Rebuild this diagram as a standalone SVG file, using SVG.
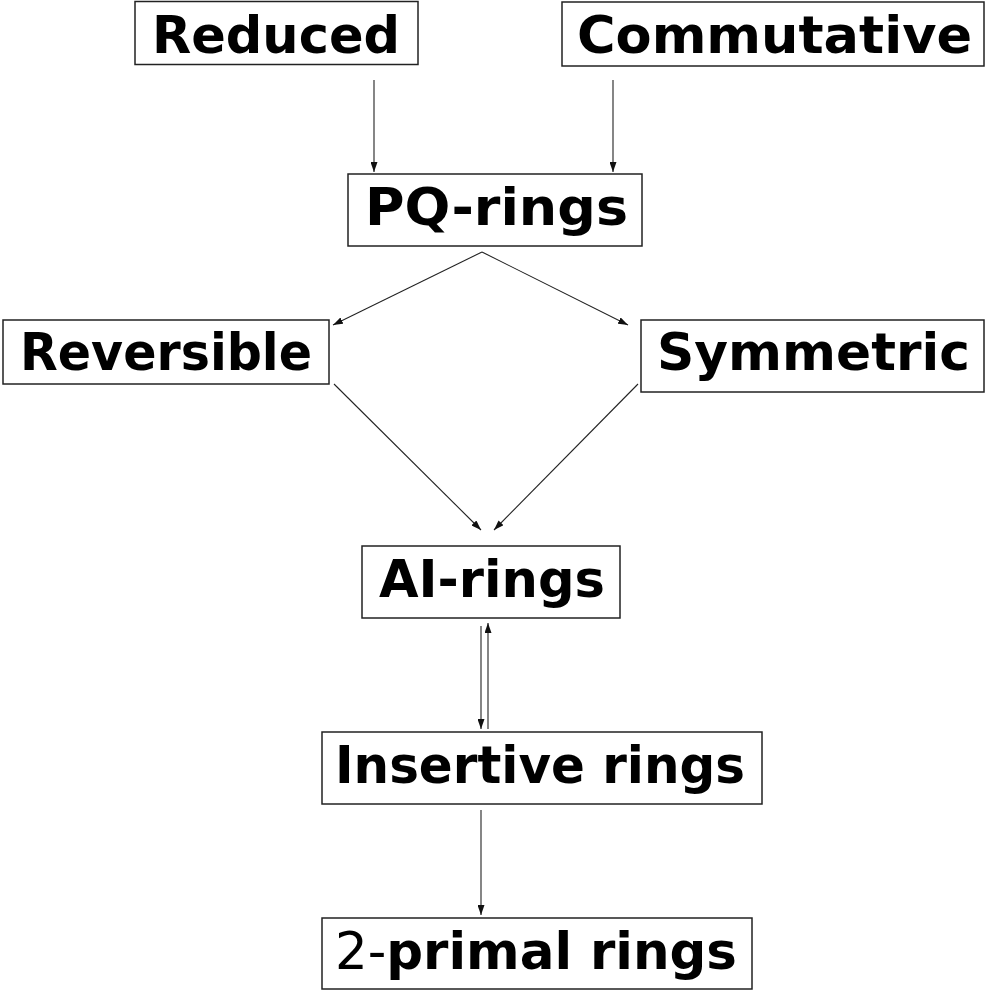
<svg xmlns="http://www.w3.org/2000/svg" width="985" height="990" viewBox="0 0 985 990">
<style>
.box{fill:#fff;stroke:#222;stroke-width:1.5}
.lbl{font-family:"DejaVu Sans","Liberation Sans",sans-serif;font-weight:bold;font-size:51px;fill:#000;text-anchor:middle}
.reg{font-weight:normal}
.edge{stroke:#222;stroke-width:1.1;fill:none;marker-end:url(#ah)}
</style>
<defs>
<marker id="ah" viewBox="0 0 10 7" refX="10" refY="3.5" markerWidth="10" markerHeight="7" markerUnits="userSpaceOnUse" orient="auto">
<path d="M0,0 L10,3.5 L0,7 z" fill="#111"/>
</marker>
</defs>
<rect width="985" height="990" fill="#fff"/>
<g id="connectors">
<line class="edge" x1="374" y1="80" x2="374" y2="172"/>
<line class="edge" x1="613" y1="80" x2="613" y2="172"/>
<line class="edge" x1="482" y1="252" x2="333" y2="325"/>
<line class="edge" x1="482" y1="252" x2="628" y2="325"/>
<line class="edge" x1="334" y1="384" x2="481" y2="530"/>
<line class="edge" x1="638" y1="384" x2="494" y2="530"/>
<line class="edge" x1="481" y1="626" x2="481" y2="729"/>
<line class="edge" x1="488" y1="729" x2="488" y2="623"/>
<line class="edge" x1="481" y1="810" x2="481" y2="915"/>
</g>
<g id="reduced">
<rect class="box" x="135" y="1.5" width="283" height="63"/>
<text class="lbl" x="276" y="53" textLength="248" lengthAdjust="spacingAndGlyphs">Reduced</text>
</g>
<g id="commutative">
<rect class="box" x="562" y="2" width="422" height="64"/>
<text class="lbl" x="774.5" y="53" textLength="395" lengthAdjust="spacingAndGlyphs">Commutative</text>
</g>
<g id="pq">
<rect class="box" x="348" y="174" width="294" height="72"/>
<text class="lbl" x="496.5" y="225" textLength="263" lengthAdjust="spacingAndGlyphs">PQ-rings</text>
</g>
<g id="reversible">
<rect class="box" x="3" y="320" width="326" height="64"/>
<text class="lbl" x="166" y="370" textLength="292" lengthAdjust="spacingAndGlyphs">Reversible</text>
</g>
<g id="symmetric">
<rect class="box" x="641" y="320" width="343" height="72"/>
<text class="lbl" x="813.5" y="370" textLength="313" lengthAdjust="spacingAndGlyphs">Symmetric</text>
</g>
<g id="ai">
<rect class="box" x="362" y="546" width="258" height="72"/>
<text class="lbl" x="492" y="597" textLength="226" lengthAdjust="spacingAndGlyphs">AI-rings</text>
</g>
<g id="insertive">
<rect class="box" x="322" y="732" width="440" height="72"/>
<text class="lbl" x="540" y="783" textLength="410" lengthAdjust="spacingAndGlyphs">Insertive rings</text>
</g>
<g id="primal">
<rect class="box" x="322" y="918" width="430" height="71"/>
<text class="lbl" x="536" y="969" textLength="402" lengthAdjust="spacingAndGlyphs"><tspan class="reg">2-</tspan>primal rings</text>
</g>
</svg>
